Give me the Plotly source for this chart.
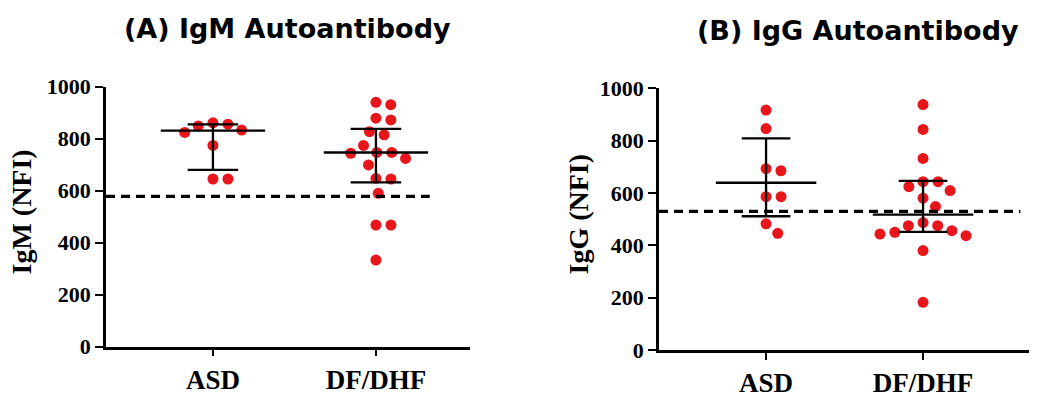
import plotly.graph_objects as go

W, H = 1041, 399

categories = ["ASD", "DF/DHF"]
y_ticks = [0, 200, 400, 600, 800, 1000]

# IgM (NFI) values
igm_asd = [861, 856, 849, 833, 824, 774, 645, 645]
igm_dhf = [940, 931, 879, 872, 827, 815, 774, 747, 747, 744, 724, 699, 647, 645, 590, 468, 468, 333]
# IgG (NFI) values
igg_asd = [917, 846, 693, 685, 586, 586, 482, 446]
igg_dhf = [938, 843, 732, 643, 643, 624, 609, 580, 548, 487, 475, 475, 456, 450, 443, 437, 380, 182]

# summary lines (median with interquartile range), per category
igm_median = [831, 747]
igm_q1 = [680, 632]
igm_q3 = [855, 838]
igg_median = [639, 517]
igg_q1 = [511, 451]
igg_q3 = [809, 646]

igm_cutoff = 578
igg_cutoff = 530

# ---------------- layout geometry (pixels) ----------------
PANELS = [
    dict(x0=106, x1=470, ytop=86.7, ybot=346.7, xrange=[-0.656, 1.577], cut_end=1.33,
         title="(A) IgM Autoantibody", title_xy=(287, 29), ytitle="IgM (NFI)", ytitle_xy=(20.5, 212)),
    dict(x0=659, x1=1029, ytop=88.3, ybot=350.0, xrange=[-0.682, 1.675], cut_end=1.62,
         title="(B) IgG Autoantibody", title_xy=(858, 30), ytitle="IgG (NFI)", ytitle_xy=(577.5, 214)),
]
MED_HALF = 0.32
CAP_HALF = 0.155
DOT_SPACING = 15.0
RED = "#e8161b"


def swarm(values, px_per_y, px_per_x, d=DOT_SPACING):
    order = sorted(range(len(values)), key=lambda i: -values[i])
    placed = []
    offs = [0.0] * len(values)
    for i in order:
        y = values[i] * px_per_y
        cands = [0.0]
        for (px, py) in placed:
            dy = abs(py - y)
            if dy < d:
                dx = (d * d - dy * dy) ** 0.5
                cands += [px + dx, px - dx]
        cands.sort(key=lambda c: (round(abs(c), 6), -c))
        for c in cands:
            if all((c - px) ** 2 + (y - py) ** 2 >= d * d - 1e-6 for px, py in placed):
                offs[i] = c / px_per_x
                placed.append((c, y))
                break
    return offs


fig = go.Figure()

data_sets = [
    ([igm_asd, igm_dhf], igm_median, igm_q1, igm_q3, igm_cutoff),
    ([igg_asd, igg_dhf], igg_median, igg_q1, igg_q3, igg_cutoff),
]

for k, (p, (groups, med, q1, q3, cut)) in enumerate(zip(PANELS, data_sets)):
    xa = "x" if k == 0 else "x2"
    ya = "y" if k == 0 else "y2"
    px_per_y = (p["ybot"] - p["ytop"]) / 1000.0
    px_per_x = (p["x1"] - p["x0"]) / (p["xrange"][1] - p["xrange"][0])
    for ci, vals in enumerate(groups):
        offs = swarm(vals, px_per_y, px_per_x)
        fig.add_trace(go.Scatter(
            x=[ci + o for o in offs], y=vals, mode="markers",
            marker=dict(color=RED, size=11, line=dict(width=0)),
            xaxis=xa, yaxis=ya, showlegend=False, hoverinfo="y"))
    for ci in range(len(categories)):
        xs = [ci - MED_HALF, ci + MED_HALF, None,
              ci, ci, None,
              ci - CAP_HALF, ci + CAP_HALF, None,
              ci - CAP_HALF, ci + CAP_HALF]
        ys = [med[ci], med[ci], None,
              q1[ci], q3[ci], None,
              q1[ci], q1[ci], None,
              q3[ci], q3[ci]]
        fig.add_trace(go.Scatter(x=xs, y=ys, mode="lines",
                                 line=dict(color="black", width=2.3),
                                 xaxis=xa, yaxis=ya, showlegend=False, hoverinfo="skip"))
    fig.add_trace(go.Scatter(x=[p["xrange"][0], p["cut_end"]], y=[cut, cut], mode="lines",
                             line=dict(color="black", width=3.2, dash="9px,6px"),
                             xaxis=xa, yaxis=ya, showlegend=False, hoverinfo="skip"))

layout = dict(
    width=W, height=H,
    margin=dict(l=0, r=0, t=0, b=0, pad=0, autoexpand=False),
    paper_bgcolor="white", plot_bgcolor="white",
    annotations=[],
)

for k, p in enumerate(PANELS):
    sfx = "" if k == 0 else "2"
    layout["xaxis" + sfx] = dict(
        domain=[p["x0"] / W, p["x1"] / W], range=p["xrange"],
        anchor="y" + sfx, showgrid=False, zeroline=False, automargin=False,
        showline=True, linecolor="black", linewidth=2.5,
        ticks="outside", ticklen=7, tickwidth=2.3, tickcolor="black",
        tickvals=[0, 1], ticktext=categories,
        tickfont=dict(family="Liberation Serif", size=27, color="black", weight="bold"),
        fixedrange=True,
    )
    layout["yaxis" + sfx] = dict(
        domain=[(H - p["ybot"]) / H, (H - p["ytop"]) / H], range=[0, 1000],
        anchor="x" + sfx, showgrid=False, zeroline=False, automargin=False,
        showline=True, linecolor="black", linewidth=2.5,
        ticks="outside", ticklen=8, tickwidth=2.3, tickcolor="black",
        tickvals=y_ticks,
        tickfont=dict(family="Liberation Serif", size=22, color="black", weight="bold"),
        fixedrange=True,
    )
    layout["annotations"].append(dict(
        text=p["title"], x=p["title_xy"][0] / W, y=1 - p["title_xy"][1] / H,
        xref="paper", yref="paper", xanchor="center", yanchor="middle", showarrow=False,
        font=dict(family="DejaVu Sans", size=27, color="black", weight="bold")))
    layout["annotations"].append(dict(
        text=p["ytitle"], x=p["ytitle_xy"][0] / W, y=1 - p["ytitle_xy"][1] / H,
        xref="paper", yref="paper", xanchor="center", yanchor="middle", showarrow=False,
        textangle=-90,
        font=dict(family="Liberation Serif", size=28, color="black", weight="bold")))

fig.update_layout(**layout)
fig.write_html("out.html", config={"displayModeBar": False},
               post_script="document.body.style.margin='0';")
